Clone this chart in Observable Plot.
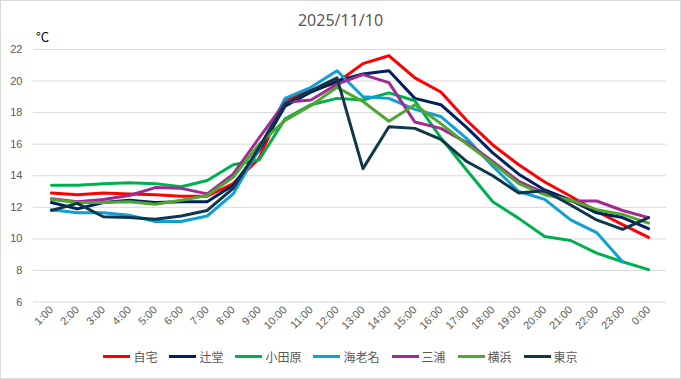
<!DOCTYPE html>
<html>
<head>
<meta charset="utf-8">
<script src="https://cdn.jsdelivr.net/npm/d3@7"></script>
<script src="https://cdn.jsdelivr.net/npm/@observablehq/plot@0.6"></script>
<style>
  html, body { margin: 0; padding: 0; background: #fff; }
  #wrap { position: relative; width: 681px; height: 379px; box-sizing: border-box; border: 1px solid #d9d9d9; overflow: hidden; font-family: "Noto Sans CJK JP", "Noto Sans", sans-serif; }
  #chart { position: absolute; left: -1px; top: -1px; }
  #title { position: absolute; left: 0; right: 0; top: 8px; text-align: center; font-size: 16px; color: #595959; font-family: "Noto Sans", "Noto Sans CJK JP", sans-serif; }
  #unit { position: absolute; left: 35px; top: 26px; font-size: 13px; color: #000; }
  #legend { position: absolute; left: 0; right: 0; top: 347px; display: flex; justify-content: center; gap: 12px; font-size: 12px; color: #595959; }
  #legend .item { display: flex; align-items: center; gap: 3px; }
  #legend .sw { width: 27px; height: 3px; }
</style>
</head>
<body>
<div id="wrap">
  <div id="chart"></div>
  <div id="title">2025/11/10</div>
  <div id="unit">°C</div>
  <div id="legend"></div>
</div>
<script>
const hours = ["1:00","2:00","3:00","4:00","5:00","6:00","7:00","8:00","9:00","10:00","11:00","12:00","13:00","14:00","15:00","16:00","17:00","18:00","19:00","20:00","21:00","22:00","23:00","0:00"];
const seriesNames = ["自宅","辻堂","小田原","海老名","三浦","横浜","東京"];
const seriesColors = ["#FF0000","#002060","#00B050","#0F9ED5","#A02B93","#4EA72E","#10364A"];
const yTicks = [6, 8, 10, 12, 14, 16, 18, 20, 22];

const jitaku   = [12.9, 12.8, 12.9, 12.85, 12.8, 12.7, 12.7, 13.5, 15.1, 18.8, 19.4, 19.9, 21.1, 21.6, 20.2, 19.3, 17.5, 15.95, 14.7, 13.6, 12.7, 11.75, 10.9, 10.1];
const tsujido  = [12.3, 11.9, 12.3, 12.45, 12.3, 12.35, 12.35, 13.4, 15.6, 18.4, 19.3, 20.0, 20.45, 20.65, 18.9, 18.5, 17.05, 15.45, 14.1, 13.1, 12.45, 11.65, 11.35, 10.65];
const odawara  = [13.4, 13.4, 13.5, 13.55, 13.5, 13.3, 13.7, 14.7, 15.0, 17.6, 18.5, 18.9, 18.8, 19.25, 18.75, 16.4, 14.35, 12.35, 11.3, 10.15, 9.9, 9.1, 8.55, 8.05];
const ebina    = [11.85, 11.65, 11.65, 11.5, 11.1, 11.1, 11.45, 12.85, 15.7, 18.9, 19.6, 20.65, 19.0, 18.9, 18.2, 17.75, 16.35, 14.6, 13.0, 12.5, 11.2, 10.4, 8.55, null];
const miura    = [12.55, 12.35, 12.5, 12.75, 13.25, 13.2, 12.85, 14.1, 16.4, 18.65, 18.8, 19.8, 20.4, 19.9, 17.4, 17.0, 16.1, 14.9, 13.65, 12.9, 12.4, 12.4, 11.8, 11.35];
const yokohama = [12.5, 12.3, 12.3, 12.35, 12.2, 12.45, 12.75, 13.9, 16.0, 17.5, 18.45, 19.6, 18.7, 17.45, 18.5, 17.3, 16.0, 14.8, 13.5, 12.8, 12.45, 11.85, 11.55, 11.0];
const tokyo    = [11.8, 12.25, 11.4, 11.35, 11.25, 11.45, 11.8, 13.2, 15.8, 18.55, 19.4, 20.2, 14.45, 17.1, 17.0, 16.3, 14.9, 14.0, 12.9, 13.05, 12.15, 11.2, 10.6, 11.35];

const allValues = [jitaku, tsujido, odawara, ebina, miura, yokohama, tokyo];
const rows = [];
seriesNames.forEach((name, si) => {
  hours.forEach((h, hi) => {
    rows.push({series: name, hour: h, value: allValues[si][hi]});
  });
});

const chart = Plot.plot({
  width: 681,
  height: 379,
  marginTop: 49,
  marginBottom: 77,
  marginLeft: 33,
  marginRight: 14,
  style: {fontFamily: "'Liberation Sans', 'Noto Sans', sans-serif", background: "transparent"},
  x: {type: "point", domain: hours, padding: 0.5, label: null},
  y: {domain: [6, 22], label: null},
  color: {domain: seriesNames, range: seriesColors},
  marks: [
    Plot.gridY(yTicks, {stroke: "#d9d9d9", strokeOpacity: 1, strokeWidth: 1}),
    Plot.axisY(yTicks, {tickSize: 0, tickPadding: 11, fontSize: 11, fill: "#595959", label: null}),
    Plot.axisX({tickSize: 0, tickRotate: -45, tickPadding: 6, fontSize: 11, fill: "#595959", label: null}),
    Plot.line(rows, {x: "hour", y: "value", z: "series", stroke: "series", strokeWidth: 3, strokeLinejoin: "round", strokeLinecap: "round"})
  ]
});
document.getElementById("chart").appendChild(chart);

const legend = document.getElementById("legend");
seriesNames.forEach((name, i) => {
  const item = document.createElement("div");
  item.className = "item";
  const sw = document.createElement("span");
  sw.className = "sw";
  sw.style.background = seriesColors[i];
  const tx = document.createElement("span");
  tx.textContent = name;
  item.appendChild(sw);
  item.appendChild(tx);
  legend.appendChild(item);
});
</script>
</body>
</html>
